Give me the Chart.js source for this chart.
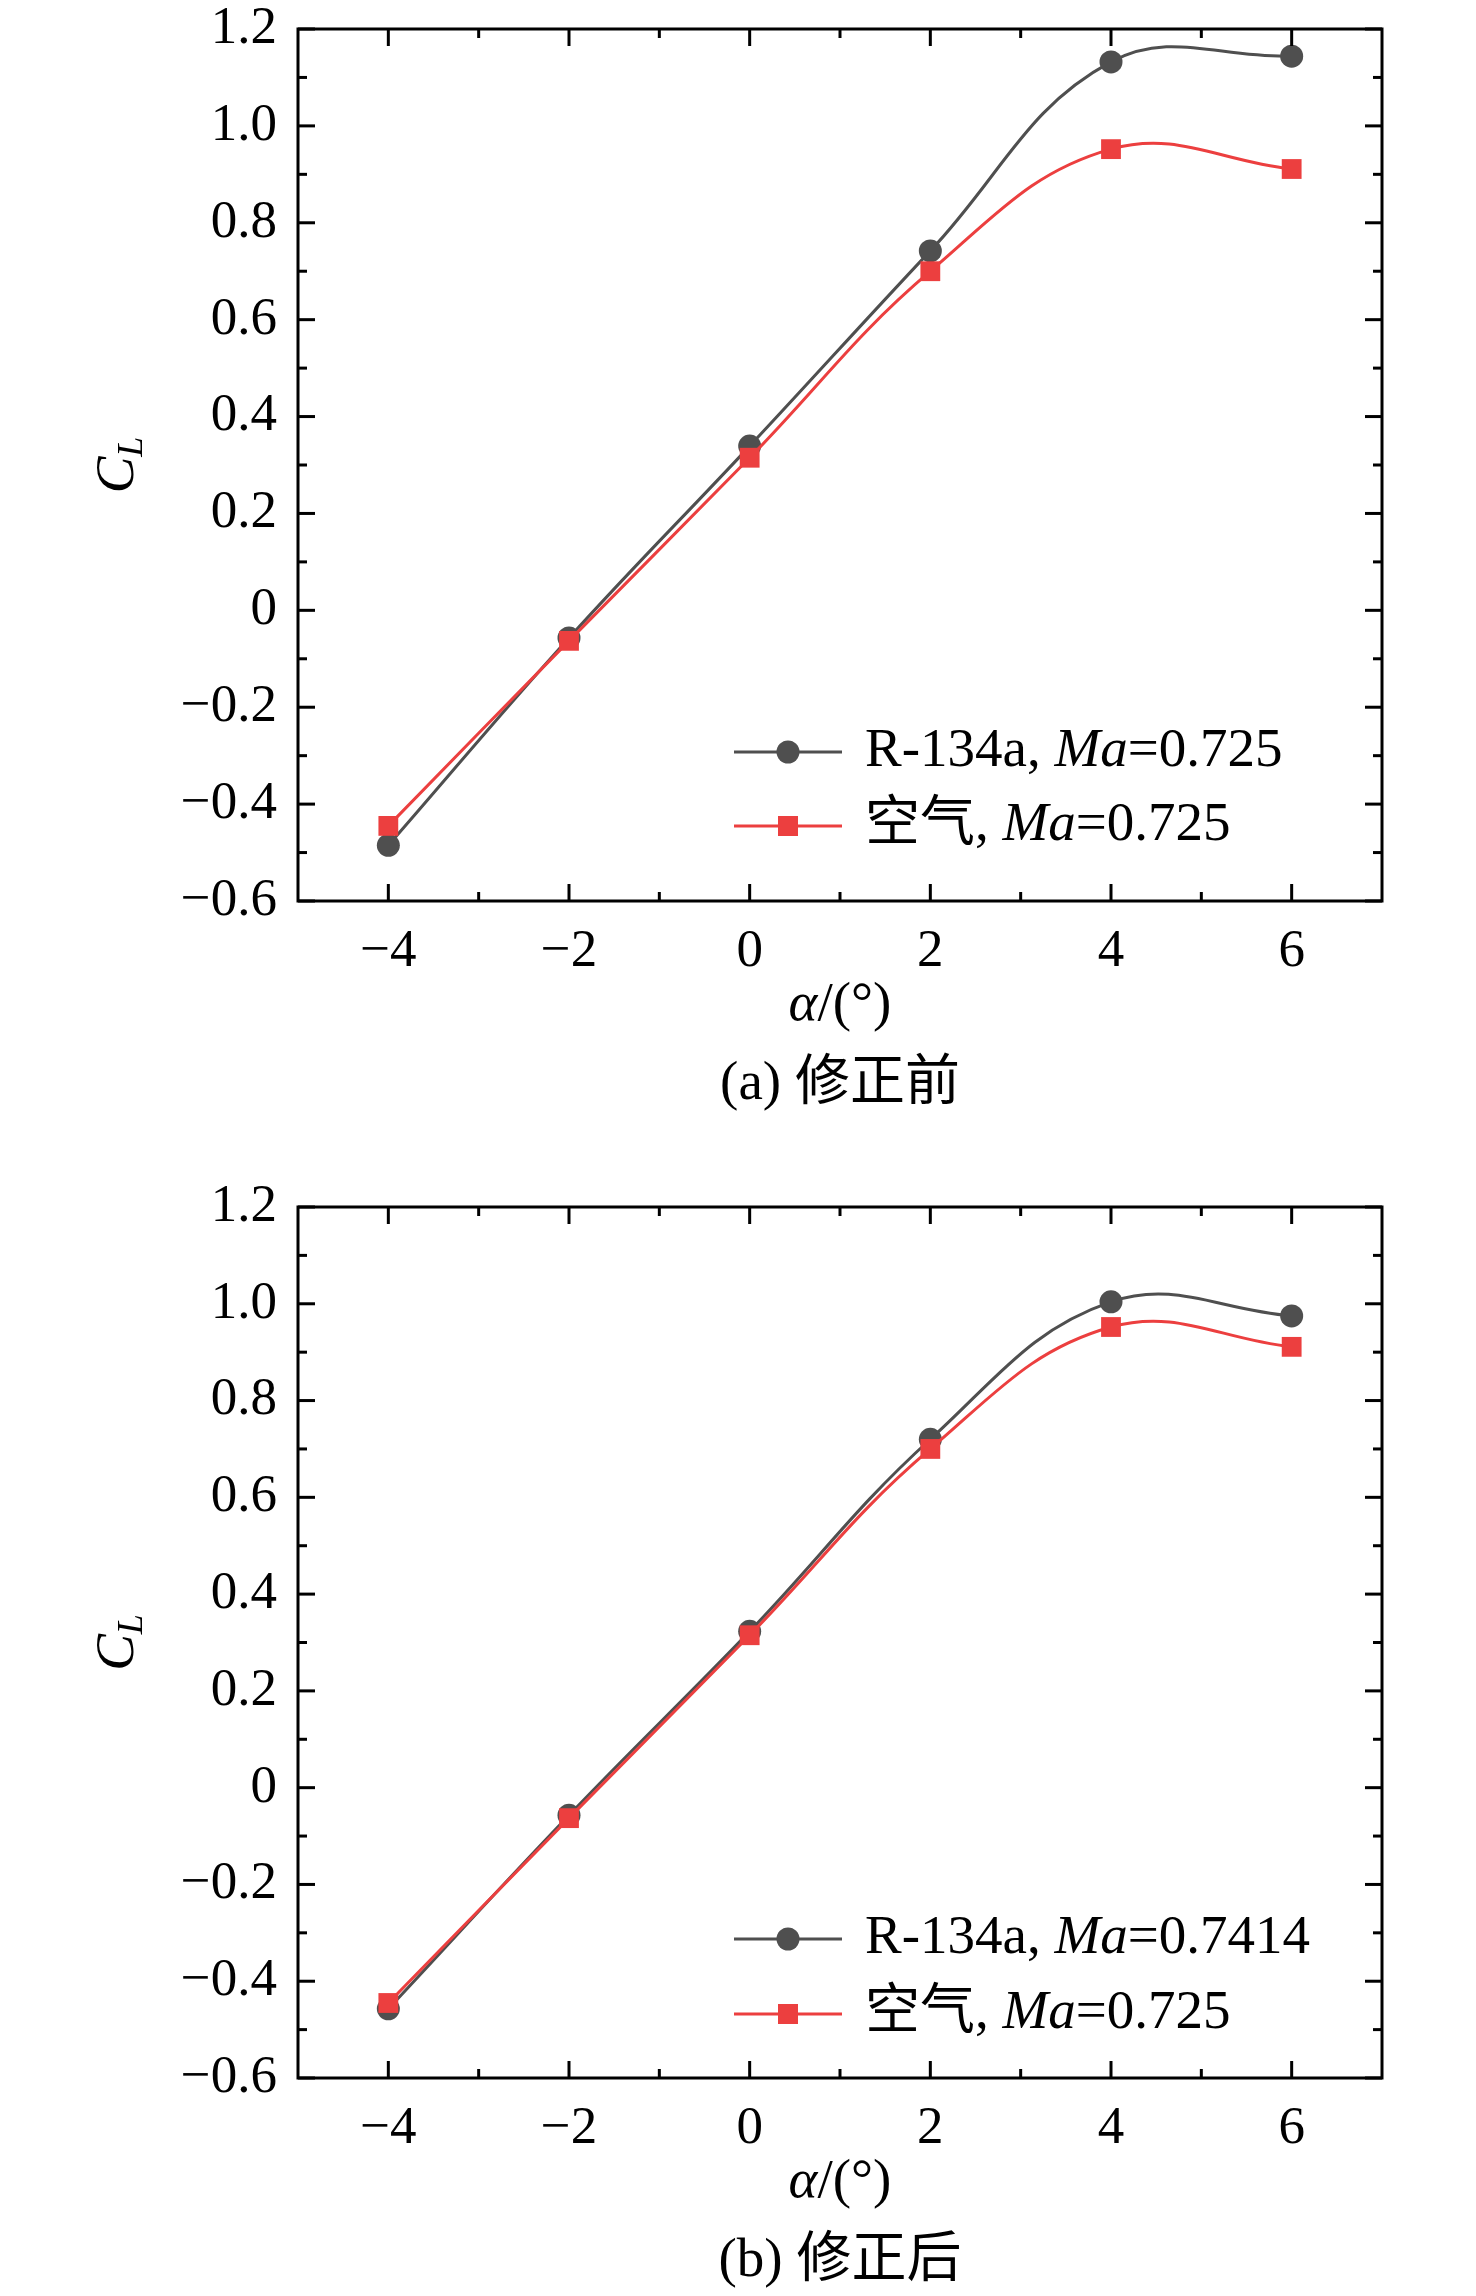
<!DOCTYPE html>
<html lang="zh">
<head>
<meta charset="utf-8">
<title>CL - alpha</title>
<script src="https://cdn.jsdelivr.net/npm/chart.js@4.4.1/dist/chart.umd.min.js"></script>
<style>
  html, body { margin: 0; padding: 0; background: #fff; }
  .panel { position: relative; width: 1476px; height: 1148px; }
  canvas { display: block; }
</style>
</head>
<body>
<div class="panel"><canvas id="chartA" width="1476" height="1148"></canvas></div>
<div class="panel"><canvas id="chartB" width="1476" height="1148"></canvas></div>
<script>
// 迎角 α (°)
const alpha = [-4, -2, 0, 2, 4, 6];

// (a) 修正前
const r134aBefore = [-0.485, -0.057, 0.339, 0.742, 1.132, 1.144];
const airBefore   = [-0.445, -0.063, 0.315, 0.700, 0.952, 0.911];

// (b) 修正后
const r134aAfter = [-0.457, -0.057, 0.323, 0.720, 1.004, 0.975];
const airAfter   = [-0.445, -0.063, 0.315, 0.700, 0.952, 0.911];

// 刻度
const xTicks = [-4, -2, 0, 2, 4, 6];
const xTickLabels = ['−4', '−2', '0', '2', '4', '6'];
const xMinor = [-3, -1, 1, 3, 5];
const yTicks = [-0.6, -0.4, -0.2, 0, 0.2, 0.4, 0.6, 0.8, 1.0, 1.2];
const yTickLabels = ['−0.6', '−0.4', '−0.2', '0', '0.2', '0.4', '0.6', '0.8', '1.0', '1.2'];
const yMinor = [-0.5, -0.3, -0.1, 0.1, 0.3, 0.5, 0.7, 0.9, 1.1];

const GRAY = '#4f4f4f';
const RED = '#ec3f3f';
const SERIF = '"Liberation Serif", "Times New Roman", "Noto Sans CJK SC", serif';

// ── 文字（斜体混排）──────────────────────────────────
function drawRuns(ctx, runs, x, y, align) {
  const fontOf = r => `${r.i ? 'italic ' : ''}${r.size || 55}px ${SERIF}`;
  let total = 0;
  runs.forEach(r => { ctx.font = fontOf(r); total += ctx.measureText(r.t).width; });
  let cx = align === 'center' ? x - total / 2 : x;
  ctx.textAlign = 'left';
  ctx.textBaseline = 'middle';
  runs.forEach(r => {
    ctx.font = fontOf(r);
    ctx.fillText(r.t, cx, y + (r.dy || 0));
    cx += ctx.measureText(r.t).width;
  });
}

// ── 边框・内向刻度・图例・标题 ─────────────────────────
const decorations = {
  id: 'decorations',
  afterDraw(chart, args, opts) {
    const { ctx, chartArea: a } = chart;
    const sx = chart.scales.x, sy = chart.scales.y;
    ctx.save();
    ctx.strokeStyle = '#000';
    ctx.fillStyle = '#000';
    ctx.lineWidth = 3;
    ctx.lineJoin = 'miter';
    ctx.strokeRect(a.left, a.top, a.right - a.left, a.bottom - a.top);

    const seg = (x1, y1, x2, y2) => { ctx.beginPath(); ctx.moveTo(x1, y1); ctx.lineTo(x2, y2); ctx.stroke(); };
    const xMarks = (vals, len) => vals.forEach(v => {
      const px = sx.getPixelForValue(v);
      seg(px, a.bottom, px, a.bottom - len);
      seg(px, a.top, px, a.top + len);
    });
    const yMarks = (vals, len) => vals.forEach(v => {
      const py = sy.getPixelForValue(v);
      seg(a.left, py, a.left + len, py);
      seg(a.right, py, a.right - len, py);
    });
    xMarks(xTicks, 17); xMarks(xMinor, 9);
    yMarks(yTicks, 17); yMarks(yMinor, 9);

    // 图例
    opts.legend.forEach((item, i) => {
      const ly = opts.legendY[i];
      ctx.strokeStyle = item.color;
      ctx.fillStyle = item.color;
      ctx.lineWidth = 3;
      seg(734, ly, 842, ly);
      if (item.style === 'circle') {
        ctx.beginPath(); ctx.arc(788, ly, 11.5, 0, Math.PI * 2); ctx.fill();
      } else {
        ctx.fillRect(788 - 10, ly - 10, 20, 20);
      }
      ctx.fillStyle = '#000';
      drawRuns(ctx, item.runs, 865, ly, 'left');
    });

    const midX = (a.left + a.right) / 2;
    ctx.fillStyle = '#000';
    // x 轴标题
    drawRuns(ctx, [{ t: 'α', i: true }, { t: '/(°)' }], midX, a.bottom + 105, 'center');
    // 图注
    drawRuns(ctx, [{ t: opts.caption }], midX, a.bottom + 184, 'center');

    // y 轴标题 C_L
    ctx.save();
    ctx.translate(119, (a.top + a.bottom) / 2);
    ctx.rotate(-Math.PI / 2);
    drawRuns(ctx, [{ t: 'C', i: true }, { t: 'L', i: true, size: 36, dy: 14 }], 0, 0, 'center');
    ctx.restore();

    ctx.restore();
  }
};

function series(ys) {
  return alpha.map((a, i) => ({ x: a, y: ys[i] }));
}

function makeChart(id, r134a, air, cfg) {
  const tickFont = { family: SERIF, size: 53, lineHeight: 1 };
  return new Chart(document.getElementById(id), {
    type: 'line',
    data: {
      datasets: [
        {
          label: 'R-134a',
          data: series(r134a),
          borderColor: GRAY,
          backgroundColor: GRAY,
          borderWidth: 3,
          pointStyle: 'circle',
          pointRadius: 11.5,
          pointBorderWidth: 0,
          tension: 0.4,
          order: 2,
        },
        {
          label: '空气',
          data: series(air),
          borderColor: RED,
          backgroundColor: RED,
          borderWidth: 3,
          pointStyle: 'rect',
          pointRadius: 14,
          pointBorderWidth: 0,
          tension: 0.4,
          order: 1,
        }
      ]
    },
    options: {
      responsive: false,
      animation: false,
      layout: { padding: { left: 0, right: 94, top: cfg.top, bottom: 0 } },
      plugins: {
        legend: { display: false },
        tooltip: { enabled: false },
        decorations: cfg,
      },
      scales: {
        x: {
          type: 'linear', min: -5, max: 7,
          afterBuildTicks: s => { s.ticks = xTicks.map(v => ({ value: v })); },
          afterFit: s => { s.height = cfg.xHeight; s.paddingLeft = 0; s.paddingRight = 0; },
          grid: { display: false, drawTicks: false },
          border: { display: false },
          ticks: { font: tickFont, color: '#000', padding: 25, maxRotation: 0, autoSkip: false,
                   callback: (v, i) => xTickLabels[i] },
        },
        y: {
          type: 'linear', min: -0.6, max: 1.2,
          afterBuildTicks: s => { s.ticks = yTicks.map(v => ({ value: v })); },
          afterFit: s => { s.width = 298; s.paddingTop = 0; s.paddingBottom = 0; },
          grid: { display: false, drawTicks: false },
          border: { display: false },
          ticks: { font: tickFont, color: '#000', padding: 21, autoSkip: false,
                   callback: (v, i) => yTickLabels[i] },
        }
      }
    },
    plugins: [decorations]
  });
}

makeChart('chartA', r134aBefore, airBefore, {
  top: 29, xHeight: 247,
  caption: '(a) 修正前',
  legendY: [752, 826],
  legend: [
    { color: GRAY, style: 'circle', runs: [{ t: 'R-134a, ' }, { t: 'Ma', i: true }, { t: '=0.725' }] },
    { color: RED, style: 'rect', runs: [{ t: '空气, ' }, { t: 'Ma', i: true }, { t: '=0.725' }] },
  ],
});

makeChart('chartB', r134aAfter, airAfter, {
  top: 59, xHeight: 218,
  caption: '(b) 修正后',
  legendY: [791, 866],
  legend: [
    { color: GRAY, style: 'circle', runs: [{ t: 'R-134a, ' }, { t: 'Ma', i: true }, { t: '=0.7414' }] },
    { color: RED, style: 'rect', runs: [{ t: '空气, ' }, { t: 'Ma', i: true }, { t: '=0.725' }] },
  ],
});
</script>
</body>
</html>
